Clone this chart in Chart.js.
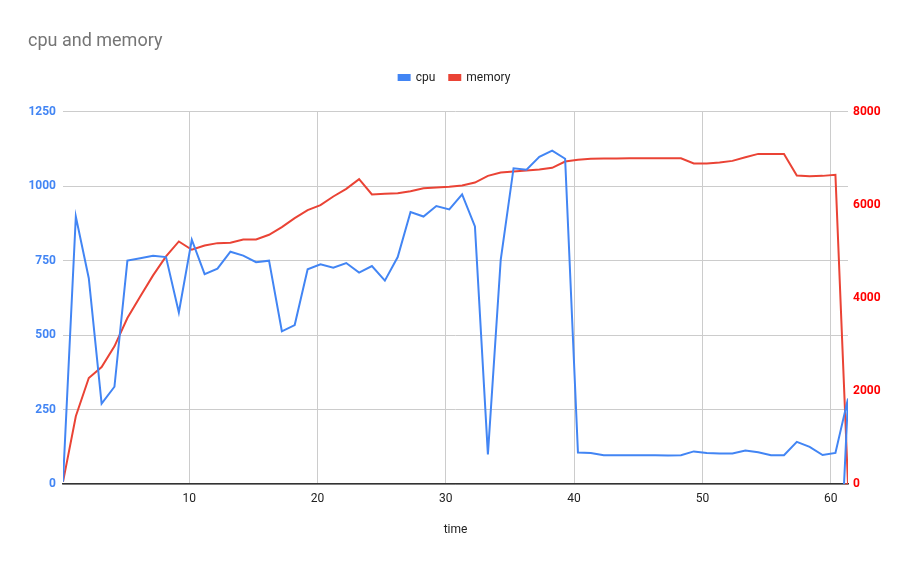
<!DOCTYPE html>
<html>
<head>
<meta charset="utf-8">
<script src="https://cdn.jsdelivr.net/npm/chart.js@4/dist/chart.umd.min.js"></script>
<style>
  html, body { margin: 0; padding: 0; background: #fff; }
  #wrap { width: 911px; height: 564px; }
</style>
</head>
<body>
<div id="wrap"><canvas id="grafico"></canvas></div>
<script>
// tempos (eixo x)
const tempos = [0.16, 1.16, 2.17, 3.17, 4.17, 5.18, 6.18, 7.18, 8.19, 9.19,
    10.20, 11.20, 12.20, 13.21, 14.21, 15.21, 16.22, 17.22, 18.22, 19.23,
    20.23, 21.23, 22.24, 23.24, 24.24, 25.25, 26.25, 27.25, 28.26, 29.26,
    30.27, 31.27, 32.27, 33.28, 34.28, 35.28, 36.29, 37.29, 38.29, 39.30,
    40.30, 41.30, 42.31, 43.31, 44.31, 45.32, 46.32, 47.32, 48.33, 49.33,
    50.34, 51.34, 52.34, 53.35, 54.35, 55.35, 56.36, 57.36, 58.36, 59.37,
    60.37, 61.35, 61.04];

const cpu = [8, 898, 691, 270, 327, 750, 758, 766, 762, 576,
    820, 705, 723, 780, 767, 745, 750, 513, 534, 721,
    738, 726, 742, 710, 732, 683, 762, 913, 898, 933,
    922, 972, 865, 100, 753, 1060, 1055, 1098, 1119, 1092,
    106, 105, 97, 97, 97, 97, 97, 96, 97, 110,
    105, 103, 103, 113, 107, 97, 97, 142, 125, 98,
    105, 287, 0];

const memoria = [50, 1458, 2280, 2516, 2960, 3567, 4032, 4483, 4890, 5212,
    5034, 5126, 5176, 5183, 5255, 5255, 5355, 5519, 5712, 5884,
    5991, 6177, 6342, 6548, 6220, 6235, 6248, 6291, 6355, 6370,
    6385, 6413, 6477, 6621, 6692, 6713, 6735, 6756, 6792, 6928,
    6964, 6985, 6992, 6992, 6999, 6999, 6999, 6999, 6999, 6885,
    6885, 6906, 6942, 7020, 7092, 7092, 7092, 6627, 6613, 6620,
    6642, 0, 0];

const ticksX = [10, 20, 30, 40, 50, 60];
const ticksCpu = [0, 250, 500, 750, 1000, 1250];
const ticksMem = [0, 2000, 4000, 6000, 8000];

const fonte = 'Roboto, Arial, sans-serif';

// espaço extra abaixo da legenda
const espacoLegenda = {
    id: 'espacoLegenda',
    beforeInit(chart) {
        const fitOriginal = chart.legend.fit;
        chart.legend.fit = function () {
            fitOriginal.bind(chart.legend)();
            this.height += 18;
        };
    }
};

const ctx = document.getElementById('grafico').getContext('2d');
new Chart(ctx, {
    type: 'line',
    data: {
        datasets: [{
            label: 'cpu',
            data: tempos.map((t, i) => ({ x: t, y: cpu[i] })),
            borderColor: '#4285F4',
            backgroundColor: '#4285F4',
            borderWidth: 2,
            pointRadius: 0,
            yAxisID: 'y'
        }, {
            label: 'memory',
            data: tempos.map((t, i) => ({ x: t, y: memoria[i] })),
            borderColor: '#EA4335',
            backgroundColor: '#EA4335',
            borderWidth: 2,
            pointRadius: 0,
            yAxisID: 'y1'
        }]
    },
    plugins: [espacoLegenda],
    options: {
        responsive: true,
        maintainAspectRatio: false,
        animation: false,
        layout: { padding: { left: 28, right: 30, top: 0, bottom: 23 } },
        plugins: {
            title: {
                display: true,
                text: 'cpu and memory',
                align: 'start',
                color: '#757575',
                font: { family: fonte, size: 18, weight: 'normal' },
                padding: { top: 31, bottom: 5 }
            },
            legend: {
                position: 'top',
                labels: {
                    color: '#222',
                    font: { family: fonte, size: 12 },
                    boxWidth: 11,
                    boxHeight: 5,
                    padding: 14
                }
            },
            tooltip: { enabled: false }
        },
        scales: {
            x: {
                type: 'linear',
                min: tempos[0],
                max: Math.max(...tempos),
                afterBuildTicks: s => { s.ticks = ticksX.map(v => ({ value: v })); },
                ticks: { color: '#222', font: { family: fonte, size: 12 }, padding: 8, maxRotation: 0, callback: v => String(v) },
                grid: { color: '#cccccc', drawTicks: false },
                border: { display: true, color: '#333', width: 1.5 },
                title: { display: true, text: 'time', color: '#222', font: { family: fonte, size: 12 }, padding: { top: 8 } }
            },
            y: {
                position: 'left',
                min: 0,
                max: 1250,
                afterBuildTicks: s => { s.ticks = ticksCpu.map(v => ({ value: v })); },
                afterFit: s => { s.width = 35; },
                ticks: { color: '#4285F4', font: { family: fonte, size: 12, weight: 'bold' }, padding: 7, callback: v => String(v) },
                grid: { color: '#cccccc', drawTicks: false },
                border: { display: false }
            },
            y1: {
                position: 'right',
                min: 0,
                max: 8000,
                afterBuildTicks: s => { s.ticks = ticksMem.map(v => ({ value: v })); },
                afterFit: s => { s.width = 33; },
                ticks: { color: '#FF0000', font: { family: fonte, size: 12, weight: 'bold' }, padding: 5, callback: v => String(v) },
                grid: { display: false, drawTicks: false },
                border: { display: false }
            }
        }
    }
});
</script>
</body>
</html>
